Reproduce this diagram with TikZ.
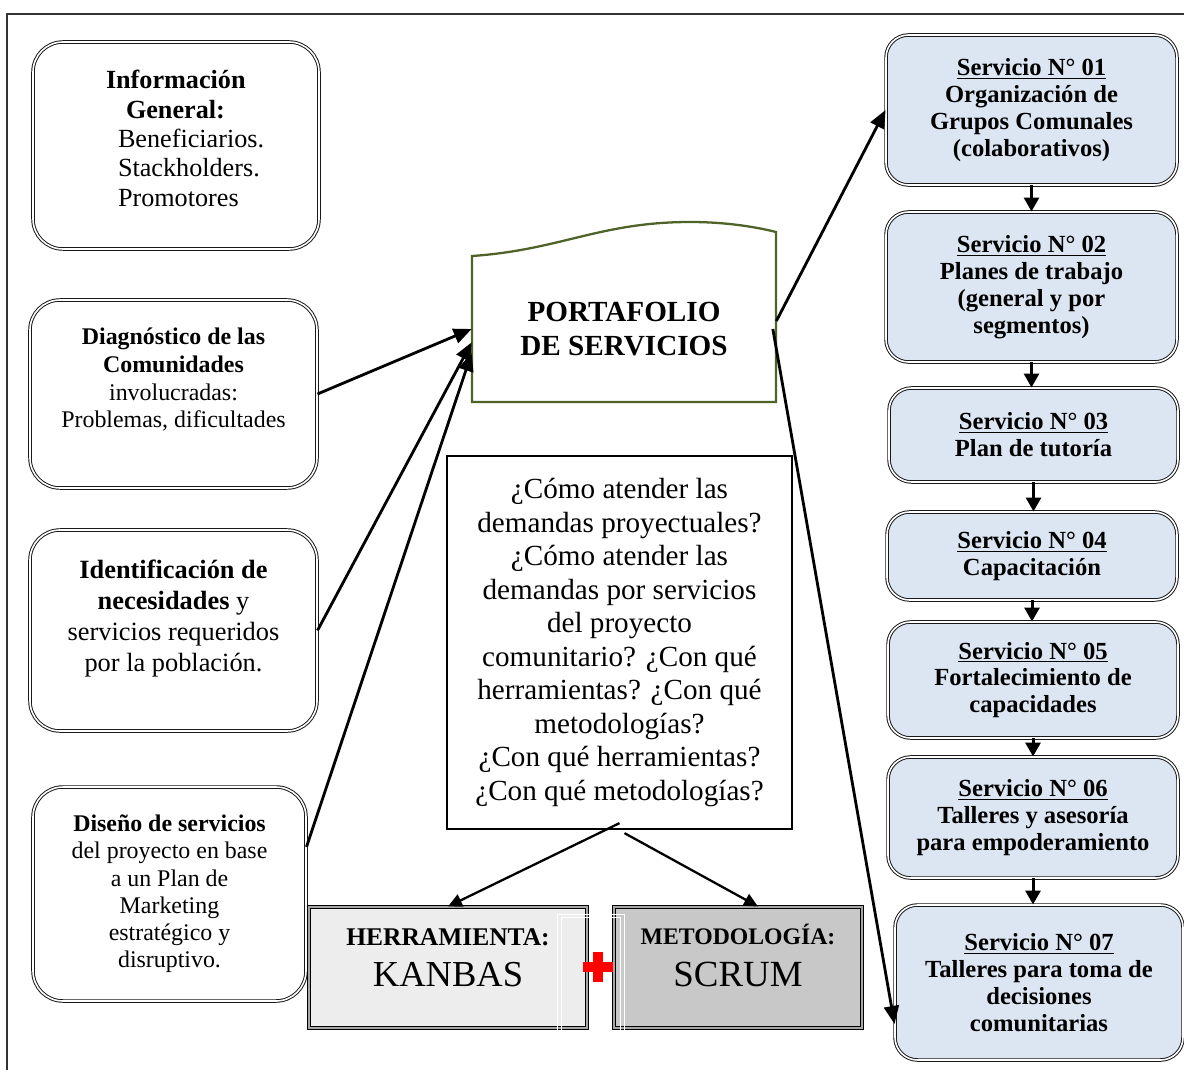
\documentclass[tikz,border=0pt]{standalone}
\usepackage{fontspec}
\setmainfont{Liberation Serif}
\usetikzlibrary{arrows.meta}
\definecolor{servfill}{RGB}{220,230,242}
\definecolor{portverde}{RGB}{79,98,40}
\definecolor{herrfill}{RGB}{237,237,237}
\definecolor{metfill}{RGB}{200,200,200}
\begin{document}
\begin{tikzpicture}[
  caja/.style={draw=black!90, line width=0.55pt, double=white, double distance=0.9pt,
    rounded corners=0.6cm, align=center, inner sep=0pt},
  serv/.style={caja, fill=servfill, rounded corners=0.45cm,
    font=\fontsize{14}{15.3}\selectfont\bfseries},
  recta/.style={draw=black, line width=0.55pt, double=gray!70, double distance=1pt,
    align=center, inner sep=0pt, minimum height=2.42cm, text depth=0.4cm},
  flecha/.style={-{Triangle[length=0.36cm,width=0.3cm]}, line width=1.6pt},
  flechita/.style={-{Triangle[length=0.28cm,width=0.3cm]}, line width=1.7pt},
  flecha2/.style={-{Triangle[length=0.28cm,width=0.26cm]}, line width=1.3pt}
]
  \useasboundingbox (0,0) rectangle (23.68,-21.4);
  % marco
  \draw[line width=0.6pt, black!80] (0.14,-21.4) -- (0.14,-0.28) -- (23.68,-0.28);

  % cajas de la izquierda
  \node[caja, minimum width=5.72cm, minimum height=4.14cm, text width=5.72cm, align=left,
    font=\fontsize{14.9}{16.7}\selectfont] (info) at (3.52,-2.91)
    {\hspace*{1.46cm}\textbf{Información}\\
     \hspace*{1.86cm}\textbf{General:}\\
     \hspace*{1.7cm}Beneficiarios.\\
     \hspace*{1.7cm}Stackholders.\\
     \hspace*{1.7cm}Promotores\\[-0.3cm]\mbox{}};
  \node[caja, minimum width=5.74cm, minimum height=3.76cm,
    font=\fontsize{13.6}{15.7}\selectfont, text depth=0.64cm] (diag) at (3.47,-7.88)
    {\textbf{Diagnóstico de las}\\\textbf{Comunidades}\\involucradas:\\Problemas, dificultades};
  \node[caja, minimum width=5.74cm, minimum height=4.02cm,
    font=\fontsize{15}{17.6}\selectfont, text depth=0.6cm] (ident) at (3.47,-12.61)
    {\textbf{Identificación de}\\\textbf{necesidades} y\\servicios requeridos\\por la población.};
  \node[caja, minimum width=5.46cm, minimum height=4.28cm,
    font=\fontsize{13.6}{15.5}\selectfont] (disen) at (3.39,-17.88)
    {\textbf{Diseño de servicios}\\del proyecto en base\\a un Plan de\\Marketing\\estratégico y\\disruptivo.};

  % portafolio
  \draw[portverde, line width=1.3pt] (9.44,-8.04) -- (9.44,-5.12)
    .. controls (11.2,-5.0) and (12.0,-4.44) .. (13.8,-4.44)
    .. controls (14.6,-4.44) and (15.2,-4.56) .. (15.52,-4.64) -- (15.52,-8.04) -- cycle;
  \node[font=\fontsize{16.6}{18.9}\selectfont\bfseries, align=center, inner sep=0pt,
    minimum width=6.08cm, minimum height=2.92cm] (port) at (12.48,-6.58)
    {PORTAFOLIO\\DE SERVICIOS};

  % preguntas
  \node[draw, line width=1.3pt, minimum width=6.9cm, minimum height=7.46cm, inner sep=0pt,
    font=\fontsize{16.6}{19.1}\selectfont, align=center] (preg) at (12.39,-12.85)
    {¿Cómo atender las\\demandas proyectuales?\\¿Cómo atender las\\demandas por servicios\\
     del proyecto\\comunitario? ¿Con qué\\herramientas? ¿Con qué\\metodologías?\\
     ¿Con qué herramientas?\\¿Con qué metodologías?};

  % herramienta y metodologia
  \node[recta, fill=herrfill, minimum width=5.56cm, font=\fontsize{14.5}{23.8}\selectfont]
    (herr) at (8.96,-19.35)
    {\textbf{HERRAMIENTA:}\\{\fontsize{20.8}{23.8}\selectfont KANBAS}};
  \node[recta, fill=metfill, minimum width=4.96cm, font=\fontsize{13.5}{23.8}\selectfont,
    text depth=0.5cm] (metod) at (14.76,-19.35)
    {\textbf{METODOLOGÍA:}\\{\fontsize{21}{23.8}\selectfont SCRUM}};
  \draw[white, line width=0.5pt] (11.14,-18.28) rectangle (12.48,-20.96);
  \draw[white, line width=0.5pt] (11.22,-18.34) rectangle (12.40,-20.90);
  \fill[red] (11.66,-19.44) rectangle (12.26,-19.24);
  \fill[red] (11.86,-19.64) rectangle (12.06,-19.04);

  % servicios
  \node[serv, minimum width=5.82cm, minimum height=3.0cm] (s1) at (20.63,-2.2)
    {\underline{Servicio N° 01}\\Organización de\\Grupos Comunales\\(colaborativos)};
  \node[serv, minimum width=5.82cm, minimum height=3.0cm] (s2) at (20.63,-5.74)
    {\underline{Servicio N° 02}\\Planes de trabajo\\(general y por\\segmentos)};
  \node[serv, minimum width=5.78cm, minimum height=1.88cm] (s3) at (20.67,-8.7)
    {\underline{Servicio N° 03}\\Plan de tutoría};
  \node[serv, minimum width=5.8cm, minimum height=1.76cm] (s4) at (20.64,-11.12)
    {\underline{Servicio N° 04}\\Capacitación};
  \node[serv, minimum width=5.8cm, minimum height=2.32cm] (s5) at (20.66,-13.6)
    {\underline{Servicio N° 05}\\Fortalecimiento de\\capacidades};
  \node[serv, minimum width=5.8cm, minimum height=2.42cm] (s6) at (20.66,-16.35)
    {\underline{Servicio N° 06}\\Talleres y asesoría\\para empoderamiento};
  \node[serv, minimum width=5.76cm, minimum height=3.1cm] (s7) at (20.78,-19.65)
    {\underline{Servicio N° 07}\\Talleres para toma de\\decisiones\\comunitarias};

  % flechas
  \draw[flecha] (diag.east) -- (port.west);
  \draw[flecha] (ident.east) -- (port.185);
  \draw[flecha] (disen.19) -- (port.189);
  \draw[flecha] (port.3) -- (s1.west);
  \draw[flecha] ([xshift=-2pt]port.east) -- (s7.196);
  \draw[flecha2] ([yshift=0.14cm]preg.south) -- (herr.north);
  \draw[flecha2] ([xshift=0.1cm,yshift=-0.06cm]preg.south) -- ([xshift=0.4cm]metod.north);
  \draw[flechita] (s1.south) -- (s2.north);
  \draw[flechita] (s2.south) -- (s2.south |- s3.north);
  \draw[flechita] (s3.south) -- (s3.south |- s4.north);
  \draw[flechita] (s4.south) -- (s4.south |- s5.north);
  \draw[flechita] (s5.south) -- (s5.south |- s6.north);
  \draw[flechita] (s6.south) -- (s6.south |- s7.north);
\end{tikzpicture}
\end{document}
